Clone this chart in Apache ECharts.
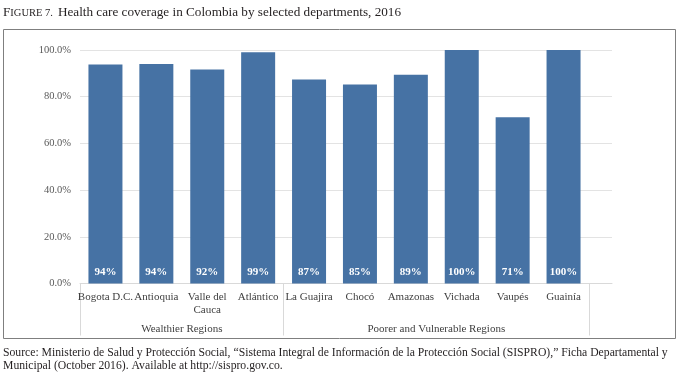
<!DOCTYPE html>
<html>
<head>
<meta charset="utf-8">
<script src="https://cdn.jsdelivr.net/npm/echarts@6/dist/echarts.min.js"></script>
<style>
html,body{margin:0;padding:0;background:#fff;}
#c{width:680px;height:373px;}
</style>
</head>
<body>
<div id="c"></div>
<script>
var categories = ['Bogota D.C.', 'Antioquia', 'Valle del\nCauca', 'Atlántico', 'La Guajira', 'Chocó', 'Amazonas', 'Vichada', 'Vaupés', 'Guainía'];
var coverage = [93.8, 94.0, 91.7, 99.0, 87.4, 85.2, 89.4, 100, 71.2, 100];
var groupSlots = ['', '', 'Wealthier Regions', '', '', '', '', 'Poorer and Vulnerable Regions', '', '', ''];
var groupBoundaries = [0, 4, 10];
var yTicks = [0, 20, 40, 60, 80, 100];

var SERIF = '"Liberation Serif", "DejaVu Serif", serif';
var chart = echarts.init(document.getElementById('c'), null, {renderer: 'canvas'});

var option = {
  backgroundColor: '#fff',
  animation: false,
  title: [{
    left: 3, top: 4, padding: 0,
    text: '{a|F}{b|IGURE 7.} {c|Health care coverage in Colombia by selected departments, 2016}',
    textStyle: {
      fontWeight: 'normal',
      rich: {
        a: {fontFamily: SERIF, fontSize: 13.2, fontWeight: 'normal', color: '#231f20'},
        b: {fontFamily: SERIF, fontSize: 10.5, fontWeight: 'normal', color: '#231f20'},
        c: {fontFamily: SERIF, fontSize: 13.2, fontWeight: 'normal', color: '#231f20'}
      }
    }
  }, {
    left: 3, top: 346, padding: 0,
    text: 'Source: Ministerio de Salud y Protección Social, “Sistema Integral de Información de la Protección Social (SISPRO),” Ficha Departamental y\nMunicipal (October 2016). Available at http://sispro.gov.co.',
    textStyle: {fontFamily: SERIF, fontSize: 11.7, fontWeight: 'normal', color: '#231f20', lineHeight: 13.5}
  }],
  graphic: [{
    type: 'rect',
    shape: {x: 3.5, y: 29.5, width: 672, height: 309},
    style: {fill: 'none', stroke: '#7f7f7f', lineWidth: 1},
    silent: true
  }],
  grid: [
    {left: 80, top: 50, width: 532, height: 233.5},
    {left: 80, top: 50, width: 509, height: 233.5}
  ],
  xAxis: [{
    gridIndex: 0, type: 'value', min: 0, max: 1,
    axisLine: {show: true, onZero: false, lineStyle: {color: '#d9d9d9', width: 1}},
    axisTick: {show: false}, axisLabel: {show: false}, splitLine: {show: false}
  }, {
    gridIndex: 1, type: 'category', data: categories,
    axisLine: {show: false}, axisTick: {show: false},
    axisLabel: {interval: 0, margin: 7, fontFamily: SERIF, fontSize: 11, color: '#404040', lineHeight: 13}
  }, {
    gridIndex: 1, type: 'category', data: groupSlots, boundaryGap: false, position: 'bottom',
    axisLine: {show: false},
    axisTick: {show: true, length: 52, lineStyle: {color: '#d9d9d9', width: 1},
      interval: function (i) { return groupBoundaries.indexOf(i) >= 0; }},
    axisLabel: {interval: 0, margin: 40, fontFamily: SERIF, fontSize: 11, color: '#404040'}
  }],
  yAxis: [{
    gridIndex: 0, type: 'value', min: 0, max: 100, interval: 20,
    axisLine: {show: false}, axisTick: {show: false},
    axisLabel: {margin: 9, fontFamily: SERIF, fontSize: 10.5, color: '#595959',
      formatter: function (v) { return v.toFixed(1) + '%'; }},
    splitLine: {show: true, lineStyle: {color: '#e3e3e3', width: 1}}
  }, {
    gridIndex: 1, type: 'value', min: 0, max: 100, interval: 20, show: false,
    splitLine: {show: false}
  }],
  series: [{
    type: 'bar',
    xAxisIndex: 1, yAxisIndex: 1,
    data: coverage,
    barWidth: 34,
    itemStyle: {color: '#4672a4'},
    label: {
      show: true, position: 'insideBottom', distance: 6,
      fontFamily: SERIF, fontSize: 11, fontWeight: 'bold', color: '#ffffff',
      formatter: function (p) { return Math.round(p.value) + '%'; }
    }
  }]
};
chart.setOption(option);
</script>
</body>
</html>
